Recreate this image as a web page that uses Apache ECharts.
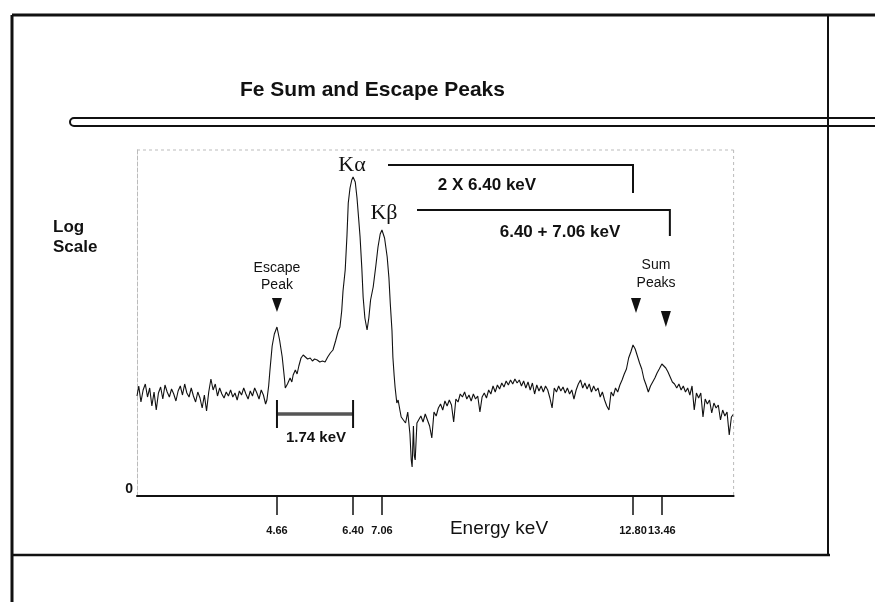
<!DOCTYPE html>
<html>
<head>
<meta charset="utf-8">
<script src="https://cdn.jsdelivr.net/npm/echarts@6/dist/echarts.min.js"></script>
<style>
html,body{margin:0;padding:0;background:#fff;}
#chart{width:875px;height:602px;}
</style>
</head>
<body>
<div id="chart"></div>
<script>
// ---- Data (energy keV, relative log counts) ----
const baselineLow = [[1.46,100],[1.50,110],[1.55,94],[1.60,106],[1.65,112],[1.70,99],[1.75,108],[1.80,90],[1.85,104],[1.90,86],[1.95,103],[2.00,109],[2.05,97],[2.10,111],[2.15,104],[2.20,99],[2.25,107],[2.30,102],[2.35,95],[2.40,105],[2.45,110],[2.50,101],[2.55,112],[2.60,103],[2.65,99],[2.70,108],[2.75,100],[2.80,94],[2.85,104],[2.90,98],[2.95,88],[3.00,101],[3.05,85],[3.10,104],[3.15,117],[3.20,106],[3.25,112],[3.30,100],[3.35,108],[3.40,102],[3.45,98],[3.50,104],[3.55,100],[3.60,106],[3.65,99],[3.70,103],[3.75,96],[3.80,105],[3.85,101],[3.90,108],[3.95,102],[4.00,97],[4.05,105],[4.10,100],[4.15,108],[4.20,103],[4.25,97],[4.30,106],[4.35,101],[4.40,92]];
const escapeRegion = [[4.43,96],[4.47,110],[4.50,126],[4.55,150],[4.60,162],[4.66,169],[4.72,156],[4.78,139],[4.83,118],[4.85,108],[4.90,112],[4.96,118],[5.00,114],[5.03,121],[5.08,126],[5.12,122],[5.16,130],[5.21,138],[5.26,141],[5.31,139],[5.36,137],[5.42,138],[5.47,135],[5.52,137],[5.58,136],[5.64,134],[5.70,135],[5.76,134],[5.82,139],[5.88,143],[5.94,146],[6.00,155],[6.06,165]];
const kLines = [[6.10,169],[6.14,185],[6.17,205],[6.22,226],[6.26,260],[6.29,293],[6.33,308],[6.37,316],[6.40,319],[6.45,314],[6.49,298],[6.53,276],[6.56,259],[6.60,228],[6.63,199],[6.67,178],[6.72,166],[6.76,178],[6.80,196],[6.86,209],[6.92,230],[6.97,249],[7.02,262],[7.06,266],[7.12,258],[7.18,239],[7.22,218],[7.25,193],[7.29,165],[7.31,139],[7.34,120],[7.36,109],[7.40,93],[7.43,96],[7.47,86],[7.50,79],[7.55,76],[7.60,73],[7.65,84],[7.70,62],[7.73,36],[7.75,29],[7.78,70],[7.80,40],[7.82,36],[7.86,73]];
const continuum = [[7.90,72],[7.95,80],[8.00,74],[8.05,82],[8.10,76],[8.15,70],[8.20,58],[8.25,84],[8.30,80],[8.35,88],[8.40,92],[8.45,86],[8.50,95],[8.55,90],[8.60,96],[8.65,91],[8.70,74],[8.75,97],[8.80,94],[8.85,102],[8.90,99],[8.95,104],[9.00,97],[9.05,101],[9.10,95],[9.15,102],[9.20,97],[9.25,100],[9.30,84],[9.35,99],[9.40,103],[9.45,98],[9.50,106],[9.55,102],[9.60,110],[9.65,104],[9.70,111],[9.75,107],[9.80,113],[9.85,109],[9.90,115],[9.95,111],[10.00,116],[10.05,112],[10.10,117],[10.15,113],[10.20,116],[10.25,110],[10.30,115],[10.35,108],[10.40,114],[10.45,106],[10.50,113],[10.55,102],[10.60,111],[10.65,105],[10.70,110],[10.75,104],[10.80,110],[10.85,106],[10.90,98],[10.95,88],[11.00,108],[11.05,104],[11.10,110],[11.15,105],[11.20,109],[11.25,103],[11.30,108],[11.35,102],[11.40,106],[11.45,97],[11.50,106],[11.55,112],[11.60,116],[11.65,108],[11.70,113],[11.75,107],[11.80,112],[11.85,104],[11.90,110],[11.95,105],[12.00,108],[12.05,99],[12.10,104],[12.15,96],[12.20,90],[12.25,86],[12.30,104],[12.35,100],[12.40,108],[12.45,104],[12.50,111]];
const sumPeaks = [[12.55,116],[12.60,122],[12.65,127],[12.70,138],[12.75,144],[12.80,151],[12.85,147],[12.90,140],[12.95,133],[13.00,127],[13.05,117],[13.10,111],[13.15,104],[13.20,110],[13.25,114],[13.30,118],[13.35,123],[13.40,127],[13.46,132],[13.50,130],[13.55,128],[13.60,124],[13.65,119],[13.70,114]];
const highTail = [[13.75,112],[13.80,108],[13.85,112],[13.90,106],[13.95,110],[14.00,104],[14.05,108],[14.10,101],[14.15,110],[14.20,86],[14.25,103],[14.30,98],[14.35,103],[14.40,79],[14.45,97],[14.50,92],[14.55,96],[14.60,83],[14.65,93],[14.70,88],[14.75,91],[14.80,76],[14.85,86],[14.90,80],[14.95,84],[15.00,61],[15.05,79],[15.10,82]];

const tickEnergies = [4.66, 6.40, 7.06, 12.80, 13.46];
const tickLabels = ['4.66', '6.40', '7.06', '12.80', '13.46'];
const yTickValues = [0];
const yTickLabels = ['0'];

const spectrum = [].concat(baselineLow, escapeRegion, kLines, continuum, sumPeaks, highTail);

const chart = echarts.init(document.getElementById('chart'), null, {renderer: 'canvas'});
const INK = '#111';
const SANS = '"Liberation Sans", Arial, sans-serif';
const SERIF = '"Liberation Serif", "Times New Roman", serif';

chart.setOption({
  animation: false,
  backgroundColor: '#fff',
  grid: {left: 137, right: 141.4, top: 150, bottom: 106},
  xAxis: {
    type: 'value', min: 1.46, max: 15.1,
    axisLine: {show: true, lineStyle: {color: INK, width: 2}},
    axisTick: {show: true, customValues: tickEnergies, length: 19, inside: false, lineStyle: {color: INK, width: 1.5}},
    axisLabel: {show: true, customValues: tickEnergies, margin: 29, hideOverlap: false, color: INK, fontWeight: 'bold', fontSize: 11, fontFamily: SANS,
      formatter: v => { const i = tickEnergies.findIndex(t => Math.abs(t - v) < 1e-6); return i >= 0 ? tickLabels[i] : ''; }},
    splitLine: {show: false}
  },
  yAxis: {
    type: 'value', min: 0, max: 346,
    axisLine: {show: true, lineStyle: {color: '#bbb', width: 1, type: 'dashed'}},
    axisTick: {show: false},
    axisLabel: {show: true, customValues: yTickValues, margin: 4, verticalAlign: 'bottom', color: INK, fontWeight: 'bold', fontSize: 14, fontFamily: SANS,
      formatter: v => { const i = yTickValues.indexOf(v); return i >= 0 ? yTickLabels[i] : ''; }},
    splitLine: {show: false}
  },
  series: [{
    type: 'line', data: spectrum, showSymbol: false, symbol: 'none',
    lineStyle: {color: INK, width: 1.1}, silent: true
  }]
});

function txt(text, x, y, font, align) {
  return {type: 'text', silent: true, z: 10, style: {text, x, y, font, fill: INK,
    align: align || 'center', textAlign: align || 'center', verticalAlign: 'middle', textVerticalAlign: 'middle'}};
}
function ln(x1, y1, x2, y2, w, color, dash) {
  return {type: 'line', silent: true, z: 5, shape: {x1, y1, x2, y2},
    style: {stroke: color || INK, lineWidth: w, lineDash: dash || null}};
}
function poly(points, w) {
  return {type: 'polyline', silent: true, z: 5, shape: {points}, style: {stroke: INK, lineWidth: w, fill: null}};
}
function tri(cx, top, w, h) {
  return {type: 'polygon', silent: true, z: 6, shape: {points: [[cx - w / 2, top], [cx + w / 2, top], [cx, top + h]]}, style: {fill: INK}};
}

const px = e => chart.convertToPixel({xAxisIndex: 0}, e);
const py = v => chart.convertToPixel({yAxisIndex: 0}, v);
const gL = px(1.46), gR = px(15.1), gT = py(346), gB = py(0);
const xKa = px(6.40), xKb = px(7.06), xEsc = px(4.66), xS1 = px(12.80), xS2 = px(13.46);

const graphics = [
  // page frame
  ln(12, 15, 875, 15, 3),
  ln(12, 15, 12, 602, 3),
  ln(828, 15, 828, 555, 2),
  ln(12, 555, 830, 555, 2.5),
  // double rule under title
  {type: 'rect', silent: true, shape: {x: 70, y: 118, width: 820, height: 8, r: [4, 0, 0, 4]}, style: {stroke: INK, lineWidth: 2, fill: null}},
  // plot frame (dashed)
  ln(gL, gT, gR, gT, 1, '#bbb', [3, 3]),
  ln(gR, gT, gR, gB, 1, '#bbb', [3, 3]),
  // titles
  txt('Fe Sum and Escape Peaks', 240, 90, 'bold 21px ' + SANS, 'left'),
  txt('Log', 53, 227, 'bold 17px ' + SANS, 'left'),
  txt('Scale', 53, 247, 'bold 17px ' + SANS, 'left'),
  txt('Energy keV', 499, 529, '19px ' + SANS),
  // K lines
  txt('K\u03B1', xKa - 1, 165, '22px ' + SERIF),
  txt('K\u03B2', xKb + 2, 213, '22px ' + SERIF),
  poly([[388, 165], [xS1, 165], [xS1, 193]], 2),
  txt('2 X 6.40 keV', 487, 185, 'bold 17px ' + SANS),
  poly([[417, 210], [xS2 + 8, 210], [xS2 + 8, 236]], 2),
  txt('6.40 + 7.06 keV', 560, 232, 'bold 17px ' + SANS),
  // escape peak
  txt('Escape', xEsc, 268, '14px ' + SANS),
  txt('Peak', xEsc, 285, '14px ' + SANS),
  tri(xEsc, 298, 10, 14),
  // sum peaks
  txt('Sum', 656, 265, '14px ' + SANS),
  txt('Peaks', 656, 283, '14px ' + SANS),
  tri(xS1 + 3, 298, 10, 15),
  tri(xS2 + 4, 311, 10, 16),
  // 1.74 keV bar
  ln(xEsc, 414, xKa, 414, 3.5, '#555'),
  ln(xEsc, 400, xEsc, 428, 2),
  ln(xKa, 400, xKa, 428, 2),
  txt('1.74 keV', (xEsc + xKa) / 2 + 1, 438, 'bold 15px ' + SANS)
];

chart.setOption({graphic: {elements: graphics}});
</script>
</body>
</html>
